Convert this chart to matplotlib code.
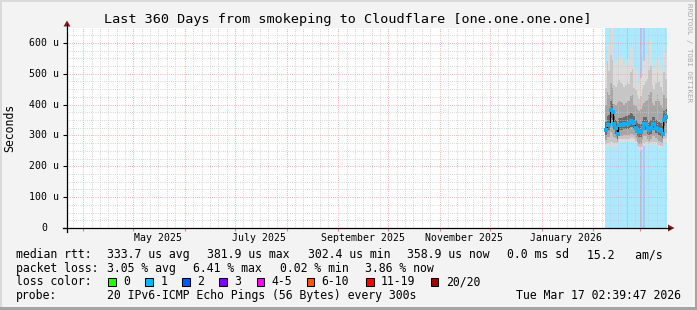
import matplotlib
matplotlib.use('Agg')
import matplotlib.pyplot as plt
import matplotlib.dates as mdates
import matplotlib.transforms as mtransforms
from matplotlib.patches import Rectangle, Polygon
from matplotlib.lines import Line2D
from matplotlib.ticker import MultipleLocator
import numpy as np
from datetime import datetime, timedelta

# ---------------- data (microseconds) ----------------
end_time = datetime(2026, 3, 17, 2, 39, 47)
start_time = end_time - timedelta(days=360)
first_day = datetime(2026, 2, 8)
n_days = 37

median = [317, 333, 334, 382, 375, 337, 323, 303, 333, 333, 333, 336, 337, 337, 339, 346, 344, 339,
          325, 314, 310, 310, 325, 336, 336, 323, 317, 323, 336, 336, 325, 322, 319, 314, 306, 350, 359]
smoke_max = [528, 650, 593, 648, 650, 533, 540, 550, 556, 550, 556, 528, 540, 550, 545, 582, 593, 522,
             518, 500, 468, 485, 518, 540, 556, 567, 598, 615, 533, 518, 540, 593, 556, 528, 505, 593, 567]
smoke_hi1 = [455, 540, 510, 560, 545, 462, 458, 470, 478, 470, 468, 456, 462, 472, 468, 505, 515, 452,
             446, 432, 418, 428, 446, 462, 472, 482, 512, 525, 462, 450, 470, 505, 472, 456, 440, 505, 482]
smoke_hi2 = [398, 440, 430, 470, 455, 402, 398, 404, 410, 408, 405, 400, 404, 410, 410, 428, 430, 400,
             394, 384, 378, 384, 394, 404, 410, 414, 430, 440, 404, 400, 410, 430, 410, 400, 390, 430, 420]
smoke_hi3 = [345, 362, 366, 410, 402, 362, 350, 332, 358, 358, 358, 361, 362, 362, 365, 372, 370, 364,
             350, 340, 336, 336, 350, 361, 361, 349, 343, 349, 361, 361, 350, 347, 344, 340, 332, 378, 386]
smoke_lo3 = [300, 316, 318, 355, 350, 320, 306, 288, 316, 317, 317, 320, 321, 321, 322, 328, 326, 322,
             308, 298, 294, 294, 308, 319, 319, 306, 300, 306, 319, 319, 308, 305, 302, 297, 290, 332, 340]
smoke_lo2 = [284, 294, 296, 310, 305, 296, 292, 280, 298, 298, 298, 300, 300, 300, 301, 304, 303, 300,
             290, 278, 272, 272, 288, 298, 298, 288, 283, 288, 298, 298, 290, 286, 283, 279, 275, 302, 308]
smoke_lo1 = [272, 276, 276, 280, 278, 276, 276, 278, 288, 288, 288, 289, 289, 289, 289, 290, 290, 289,
             282, 266, 261, 261, 266, 276, 280, 278, 277, 278, 280, 280, 278, 276, 268, 266, 266, 288, 292]
smoke_min = [262, 262, 262, 264, 264, 262, 264, 270, 278, 278, 278, 278, 278, 278, 278, 278, 278, 278,
             274, 256, 252, 252, 256, 266, 269, 269, 269, 269, 269, 269, 269, 268, 259, 259, 259, 276, 278]
loss_pings = [1, 1, 1, 1, 1, 1, 1, 1, 1, 1, 1, 1, 1, 2, 1, 1, 1, 1,
              1, 1, 1, 2, 1, 2, 1, 1, 1, 1, 1, 1, 1, 1, 1, 1, 1, 1, 1]

y_ticks = [0, 100, 200, 300, 400, 500, 600]
y_tick_labels = ["0", "100 u", "200 u", "300 u", "400 u", "500 u", "600 u"]
x_label_dates = [datetime(2025, 5, 15, 12), datetime(2025, 7, 15, 12), datetime(2025, 9, 15, 12),
                 datetime(2025, 11, 15, 12), datetime(2026, 1, 15, 12)]
x_label_texts = ["May 2025", "July 2025", "September 2025", "November 2025", "January 2026"]

title = "Last 360 Days from smokeping to Cloudflare [one.one.one.one]"
row_median = [("median rtt:", 16), ("333.7 us avg", 107.3), ("381.9 us max", 207.3),
              ("302.4 us min", 308.5), ("358.9 us now", 406.7), ("0.0 ms sd", 506.7),
              ("15.2   am/s", 586.7)]
row_loss = [("packet loss:", 16), ("3.05 % avg", 107.3), ("6.41 % max", 193.3),
            ("0.02 % min", 280.0), ("3.86 % now", 365.0)]
loss_labels = ["0", "1", "2", "3", "4-5", "6-10", "11-19", "20/20"]
loss_colors = ["#26ff00", "#00b8ff", "#0059ff", "#7e00ff", "#ff00ff", "#ff5500", "#ff0000", "#a00000"]
loss_bg = {1: "#aae9ff", 2: "#aac6ff"}
box_x = [108.3, 145.3, 182.3, 219.3, 256.7, 306.7, 366.0, 430.5]
lab_x = [123.3, 160.3, 197.0, 234.0, 271.0, 321.7, 380.5, 446.0]
probe_text = "20 IPv6-ICMP Echo Pings (56 Bytes) every 300s"
stamp_text = "Tue Mar 17 02:39:47 2026"

# ---------------- figure ----------------
W, H = 697, 310
MONO = "DejaVu Sans Mono"
fig = plt.figure(figsize=(W / 100, H / 100), dpi=100)
fig.patch.set_facecolor("#f3f3f3")


def fx(x):
    return x / W


def fy(y):
    return 1 - y / H


ax = fig.add_axes([fx(67), fy(228), 600 / W, 200 / H])
ax.set_facecolor("white")
for s in ax.spines.values():
    s.set_visible(False)

x0 = mdates.date2num(start_time)
x1 = mdates.date2num(end_time)
ax.set_xlim(x0, x1)
ax.set_ylim(0, 648)

day_start = np.array([mdates.date2num(first_day + timedelta(days=i)) for i in range(n_days)])
edges = np.append(day_start, day_start[-1] + 1)
centers = day_start + 0.5


def ext(a):
    a = np.asarray(a, dtype=float)
    return np.append(a, a[-1])


# loss background
ax.bar(day_start, [648] * n_days, width=1.0, align="edge",
       color=[loss_bg[v] for v in loss_pings], linewidth=0, zorder=0.8)

# smoke
bands = [(smoke_min, smoke_max, "#dcdcdc"), (smoke_lo1, smoke_hi1, "#c6c6c6"),
         (smoke_lo2, smoke_hi2, "#a6a6a6"), (smoke_lo3, smoke_hi3, "#6a6a6a")]
for k, (lo, hi, c) in enumerate(bands):
    ax.fill_between(edges, ext(lo), ext(hi), step="post", color=c, linewidth=0, zorder=1 + k * 0.1)

# grid
ax.xaxis.set_major_locator(mdates.MonthLocator())
ax.xaxis.set_minor_locator(mdates.DayLocator(bymonthday=[6, 11, 16, 21, 26]))
ax.yaxis.set_major_locator(MultipleLocator(100))
ax.yaxis.set_minor_locator(MultipleLocator(25))
ax.grid(which="minor", color="#c8c8c8", linestyle=(0, (0.72, 1.44)), linewidth=0.72)
ax.grid(which="major", color="#f29a9a", linestyle=(0, (0.72, 1.44)), linewidth=0.72)
ax.tick_params(which="both", length=0, labelbottom=False, labelleft=False)

# median
ax.step(edges, ext(median), where="post", color="black", linewidth=0.8, zorder=3)
ax.plot(centers, median, "s", ms=2.3, mew=0, color="#12aef2", zorder=3.2)

# axis ticks
trans_y = mtransforms.blended_transform_factory(ax.transAxes, ax.transData)
trans_x = mtransforms.blended_transform_factory(ax.transData, ax.transAxes)
ax.hlines(y_ticks, -4 / 600, 0, transform=trans_y, color="black", linewidth=0.8, clip_on=False)
months = ax.xaxis.get_majorticklocs()
ax.vlines(months, -3 / 200, 0, transform=trans_x, color="#f08080", linewidth=0.8, clip_on=False)

for v, t in zip(y_ticks, y_tick_labels):
    if t == "0":
        ax.text(-22.5 / 600, v, t, transform=trans_y, ha="center", va="center",
                fontsize=7.1, family=MONO, color="black")
    else:
        ax.text(-8 / 600, v, t, transform=trans_y, ha="right", va="center",
                fontsize=7.1, family=MONO, color="black")
for d, t in zip(x_label_dates, x_label_texts):
    ax.text(mdates.date2num(d), -9.7 / 200, t, transform=trans_x, ha="center", va="center",
            fontsize=7.1, family=MONO, color="black")

# axis lines and arrows
fig.add_artist(Line2D([fx(63), fx(670)], [fy(228), fy(228)], color="black", linewidth=0.9))
fig.add_artist(Line2D([fx(67), fx(67)], [fy(232), fy(24)], color="black", linewidth=0.9))
arrow_c = "#8b1a1a"
fig.add_artist(Polygon([[fx(63.5), fy(26.5)], [fx(70.5), fy(26.5)], [fx(67), fy(20.5)]],
                       closed=True, color=arrow_c, linewidth=0))
fig.add_artist(Polygon([[fx(668), fy(224.5)], [fx(668), fy(231.5)], [fx(674.5), fy(228)]],
                       closed=True, color=arrow_c, linewidth=0))

# borders
fig.add_artist(Rectangle((0, 0), fx(2), 1, color="#dadada", linewidth=0))
fig.add_artist(Rectangle((0, fy(2)), 1, 2 / H, color="#dadada", linewidth=0))
fig.add_artist(Rectangle((0, 0), 1, 3 / H, color="#a4a4a4", linewidth=0))
fig.add_artist(Rectangle((fx(695), 0), 2 / W, 1, color="#a4a4a4", linewidth=0))

# texts
fig.text(fx(348), fy(19), title, ha="center", va="center", fontsize=9.7, family=MONO)
fig.text(fx(9.7), fy(128), "Seconds", rotation=90, ha="center", va="center", fontsize=8.3, family=MONO)
fig.text(fx(689), fy(3), "RRDTOOL / TOBI OETIKER", rotation=270, ha="center", va="top",
         fontsize=5.3, family=MONO, color="#aaaaaa")

LEG_FS = 8.3
for t, x in row_median:
    fig.text(fx(x), fy(254.5), t, ha="left", va="center", fontsize=LEG_FS, family=MONO)
for t, x in row_loss:
    fig.text(fx(x), fy(268.2), t, ha="left", va="center", fontsize=LEG_FS, family=MONO)
fig.text(fx(16), fy(281.8), "loss color:", ha="left", va="center", fontsize=LEG_FS, family=MONO)
for bx, lx, lab, c in zip(box_x, lab_x, loss_labels, loss_colors):
    fig.add_artist(Rectangle((fx(bx), fy(285.5)), 7.5 / W, 7.5 / H, facecolor=c,
                             edgecolor="black", linewidth=0.75))
    fig.text(fx(lx), fy(281.8), lab, ha="left", va="center", fontsize=LEG_FS, family=MONO)
fig.text(fx(16), fy(295.8), "probe:", ha="left", va="center", fontsize=LEG_FS, family=MONO)
fig.text(fx(107.3), fy(295.8), probe_text, ha="left", va="center", fontsize=LEG_FS, family=MONO)
fig.text(fx(680.5), fy(295.8), stamp_text, ha="right", va="center", fontsize=LEG_FS, family=MONO)

fig.savefig("out.png", dpi=100, facecolor=fig.get_facecolor())
